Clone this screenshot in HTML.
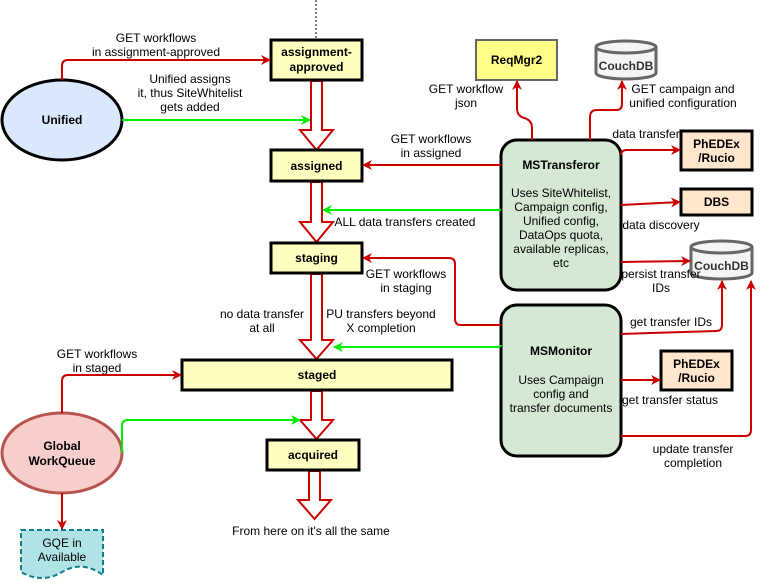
<!DOCTYPE html>
<html><head><meta charset="utf-8"><style>
html,body{margin:0;padding:0;background:#fff;}
svg{display:block;font-family:"Liberation Sans",Arial,sans-serif;}
</style></head><body>
<svg width="760" height="583" viewBox="0 0 760 583" xmlns="http://www.w3.org/2000/svg">
<defs>
<marker id="r" markerWidth="10" markerHeight="10" refX="9" refY="5" orient="auto" markerUnits="userSpaceOnUse"><path d="M0,0 L10,5 L0,10 L3,5 Z" fill="#cc0000"/></marker>
<marker id="g" markerWidth="10" markerHeight="10" refX="9" refY="5" orient="auto" markerUnits="userSpaceOnUse"><path d="M0,0 L10,5 L0,10 L3,5 Z" fill="#00ee00"/></marker>
</defs>
<line x1="316" y1="0" x2="316" y2="40" stroke="#000" stroke-dasharray="2,2"/>

<!-- block arrows -->
<g fill="#fff" stroke="#cc0000" stroke-width="2">
<path d="M311,81 L322,81 L322,130 L333,130 L316.5,150 L300,130 L311,130 Z"/>
<path d="M311,182 L322,182 L322,222 L333,222 L316.5,242 L300,222 L311,222 Z"/>
<path d="M311,274 L322,274 L322,340 L333,340 L316.5,359 L300,340 L311,340 Z"/>
<path d="M311,391 L322,391 L322,420 L333,420 L316.5,439 L300,420 L311,420 Z"/>
<path d="M309,471 L320,471 L320,500 L331,500 L314.5,519 L298,500 L309,500 Z"/>
</g>

<!-- state boxes -->
<g fill="#ffffc0" stroke="#000" stroke-width="3">
<rect x="271" y="40" width="91" height="40"/>
<rect x="271" y="150" width="91" height="31"/>
<rect x="271" y="243" width="91" height="30"/>
<rect x="182" y="360" width="270" height="30"/>
<rect x="267" y="440" width="92" height="30"/>
</g>
<g font-size="12" font-weight="bold" text-anchor="middle">
<text x="316.5" y="56">assignment-</text><text x="316.5" y="71">approved</text>
<text x="316.5" y="170">assigned</text>
<text x="316.5" y="262">staging</text>
<text x="317" y="379">staged</text>
<text x="313" y="459">acquired</text>
</g>

<!-- Unified -->
<ellipse cx="62" cy="120" rx="60" ry="40" fill="#dae8fc" stroke="#000" stroke-width="3"/>
<text x="62" y="124" font-size="12" font-weight="bold" text-anchor="middle">Unified</text>
<!-- GWQ -->
<ellipse cx="62" cy="453" rx="60" ry="40" fill="#f8cecc" stroke="#b85450" stroke-width="3"/>
<text x="62" y="450" font-size="12" font-weight="bold" text-anchor="middle">Global</text>
<text x="62" y="465" font-size="12" font-weight="bold" text-anchor="middle">WorkQueue</text>
<!-- GQE -->
<path d="M21,530 L103,530 L103,575 Q82,560 62,572 Q42,584 21,572 Z" fill="#b0e3e6" stroke="#0e8088" stroke-width="2" stroke-dasharray="5,3"/>
<text x="62" y="547" font-size="12" text-anchor="middle">GQE in</text>
<text x="62" y="561" font-size="12" text-anchor="middle">Available</text>

<!-- MS boxes -->
<rect x="501" y="140" width="120" height="150" rx="16" fill="#d5e8d4" stroke="#000" stroke-width="3"/>
<rect x="501" y="305" width="120" height="151" rx="16" fill="#d5e8d4" stroke="#000" stroke-width="3"/>
<g font-size="12" text-anchor="middle">
<text x="561" y="169" font-weight="bold">MSTransferor</text>
<text x="561" y="197">Uses SiteWhitelist,</text>
<text x="561" y="211">Campaign config,</text>
<text x="561" y="225">Unified config,</text>
<text x="561" y="239">DataOps quota,</text>
<text x="561" y="253">available replicas,</text>
<text x="561" y="267">etc</text>
<text x="561" y="355" font-weight="bold">MSMonitor</text>
<text x="561" y="384">Uses Campaign</text>
<text x="561" y="398">config and</text>
<text x="561" y="412">transfer documents</text>
</g>

<!-- ReqMgr2 -->
<rect x="476" y="40" width="81" height="40" fill="#ffff88" stroke="#666" stroke-width="2"/>
<text x="516.5" y="64" font-size="12" font-weight="bold" text-anchor="middle">ReqMgr2</text>
<!-- CouchDB cylinders -->
<g fill="#f5f5f5" stroke="#666" stroke-width="3">
<path d="M596,47 L596,73 A30,6 0 0 0 656,73 L656,47"/>
<ellipse cx="626" cy="47" rx="30" ry="6"/>
<path d="M691,247 L691,273 A30.5,6 0 0 0 752,273 L752,247"/>
<ellipse cx="721.5" cy="247" rx="30.5" ry="6"/>
</g>
<text x="626" y="70" font-size="12" font-weight="bold" fill="#333" text-anchor="middle">CouchDB</text>
<text x="721.5" y="270" font-size="12" font-weight="bold" fill="#333" text-anchor="middle">CouchDB</text>

<!-- Phedex/DBS -->
<g fill="#ffe6cc" stroke="#000" stroke-width="3">
<rect x="681" y="131" width="71" height="39"/>
<rect x="681" y="189" width="71" height="26"/>
<rect x="661" y="351" width="71" height="39"/>
</g>
<g font-size="12" font-weight="bold" text-anchor="middle">
<text x="716.5" y="148">PhEDEx</text><text x="716.5" y="162">/Rucio</text>
<text x="716.5" y="206">DBS</text>
<text x="696.5" y="368">PhEDEx</text><text x="696.5" y="382">/Rucio</text>
</g>

<!-- connectors -->
<g fill="none" stroke="#cc0000" stroke-width="2">
<path d="M62,80 L62,66 Q62,60 68,60 L270,60" marker-end="url(#r)"/>
<path d="M501,165 L363,165" marker-end="url(#r)"/>
<path d="M501,325 L461,325 Q455,325 455,319 L455,264 Q455,258 449,258 L363,258" marker-end="url(#r)"/>
<path d="M62,413 L62,381 Q62,375 68,375 L181,375" marker-end="url(#r)"/>
<path d="M62,493 L62,529" marker-end="url(#r)"/>
<path d="M532,140 L532,128 Q532,120 524,118 Q517,116 517,108 L517,81" marker-end="url(#r)"/>
<path d="M590,140 L590,117 Q590,110 597,110 L616,110 Q622,110 622,104 L622,81" marker-end="url(#r)"/>
<path d="M621,155 Q621,150 627,150 L680,150" marker-end="url(#r)"/>
<path d="M621,205 L680,202" marker-end="url(#r)"/>
<path d="M621,262 L690,261" marker-end="url(#r)"/>
<path d="M621,334 L716,331 Q722,331 722,325 L722,281" marker-end="url(#r)"/>
<path d="M621,380 L660,380" marker-end="url(#r)"/>
<path d="M621,436 L745,436 Q751,436 751,430 L751,281" marker-end="url(#r)"/>
</g>
<g fill="none" stroke="#00ee00" stroke-width="2">
<path d="M122,120 L310,120" marker-end="url(#g)"/>
<path d="M501,210 L323,210" marker-end="url(#g)"/>
<path d="M501,345 Q501,347 495,347 L334,347" marker-end="url(#g)"/>
<path d="M122,453 L122,426 Q122,420 128,420 L300,420" marker-end="url(#g)"/>
</g>

<!-- labels -->
<g font-size="12" text-anchor="middle" fill="#000">
<g fill="#000"><rect/></g>
<text x="156" y="42">GET workflows</text><text x="156" y="56">in assignment-approved</text>
<text x="190" y="83">Unified assigns</text><text x="190" y="97">it, thus SiteWhitelist</text><text x="190" y="111">gets added</text>
<text x="431" y="143">GET workflows</text><text x="431" y="157">in assigned</text>
<text x="405" y="226">ALL data transfers created</text>
<text x="406" y="278">GET workflows</text><text x="406" y="292">in staging</text>
<text x="262" y="318">no data transfer</text><text x="262" y="332">at all</text>
<text x="381" y="318">PU transfers beyond</text><text x="381" y="332">X completion</text>
<text x="97" y="358">GET workflows</text><text x="97" y="372">in staged</text>
<text x="311" y="535">From here on it's all the same</text>
<text x="466" y="93">GET workflow</text><text x="466" y="107">json</text>
<text x="683" y="93">GET campaign and</text><text x="683" y="107">unified configuration</text>
<text x="646" y="138">data transfer</text>
<text x="661" y="229">data discovery</text>
<text x="661" y="278">persist transfer</text><text x="661" y="292">IDs</text>
<text x="671" y="326">get transfer IDs</text>
<text x="670" y="404">get transfer status</text>
<text x="693" y="453">update transfer</text><text x="693" y="467">completion</text>
</g>
</svg>
</body></html>
